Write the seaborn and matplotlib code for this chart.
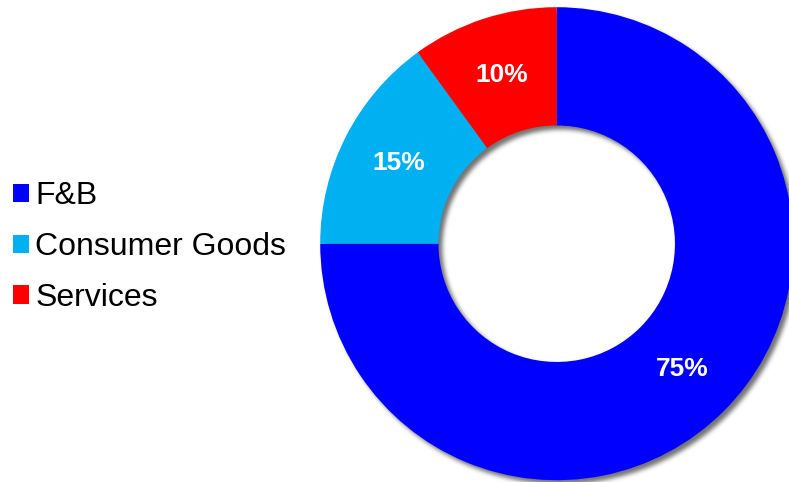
import numpy as np
import matplotlib
matplotlib.use("Agg")
import matplotlib.pyplot as plt
from matplotlib.patches import Wedge
import seaborn as sns

# Revenue split by segment
segments = ["F&B", "Consumer Goods", "Services"]
shares = [75, 15, 10]
colors = ["#0000FF", "#00B0F0", "#FF0000"]

sns.set_theme(style="white")
plt.rcParams["font.family"] = ["Liberation Sans", "DejaVu Sans"]
plt.rcParams["text.color"] = "black"

W, H, DPI = 789, 482, 100
fig = plt.figure(figsize=(W / DPI, H / DPI), dpi=DPI, facecolor="white")

# square axes holding the donut (allowed to run past the right edge)
cx, cy, r_px = 556.7, 243.7, 236.5
ax = fig.add_axes([(cx - r_px) / W, (H - cy - r_px) / H, 2 * r_px / W, 2 * r_px / H])
ax.set_xlim(-1, 1)
ax.set_ylim(-1, 1)
ax.set_aspect("equal")
ax.axis("off")

RING = 0.5


def gauss_kernel(sigma):
    n = int(3 * sigma) + 1
    x = np.arange(-n, n + 1)
    k = np.exp(-x ** 2 / (2 * sigma ** 2))
    return k / k.sum()


def soft_shadow(dx=4, dy=4, sigma=2.2, alpha=0.55):
    def _filter(im, dpi):
        pad = int(3 * sigma) + max(dx, dy) + 2
        src = np.pad(im, [(pad, pad), (pad, pad), (0, 0)], "constant")
        a = src[:, :, 3]
        k = gauss_kernel(sigma)
        a = np.apply_along_axis(lambda v: np.convolve(v, k, mode="same"), 0, a)
        a = np.apply_along_axis(lambda v: np.convolve(v, k, mode="same"), 1, a)
        a = np.roll(np.roll(a, dy, axis=0), dx, axis=1)
        out = np.zeros_like(src)
        out[:, :, 3] = np.clip(a * alpha, 0, 1)
        return out, -pad, -pad
    return _filter


# blurred drop shadow under the ring
shadow = Wedge((0, 0), 1, 0, 360, width=RING, facecolor="black", edgecolor="none", zorder=0)
shadow.set_agg_filter(soft_shadow())
ax.add_patch(shadow)

wedges, _, autotexts = ax.pie(
    shares,
    colors=colors,
    startangle=90,
    counterclock=False,
    radius=1,
    autopct=lambda p: f"{p:.0f}%",
    pctdistance=0.75,
    wedgeprops=dict(width=RING, edgecolor="none", linewidth=0),
    textprops=dict(color="white", fontsize=19, fontweight="bold"),
)
for w in wedges:
    w.set_zorder(1)
for t in autotexts:
    t.set_zorder(2)
ax.set_xlim(-1, 1)
ax.set_ylim(-1, 1)

fig.legend(
    wedges,
    segments,
    loc="center left",
    bbox_to_anchor=(0.0, (H - 247) / H),
    frameon=False,
    fontsize=23,
    labelcolor="black",
    handlelength=0.5,
    handleheight=0.5,
    handletextpad=0.2,
    labelspacing=0.65,
    borderaxespad=0,
    borderpad=0.4,
)

fig.savefig("out.png", dpi=DPI, facecolor="white")
